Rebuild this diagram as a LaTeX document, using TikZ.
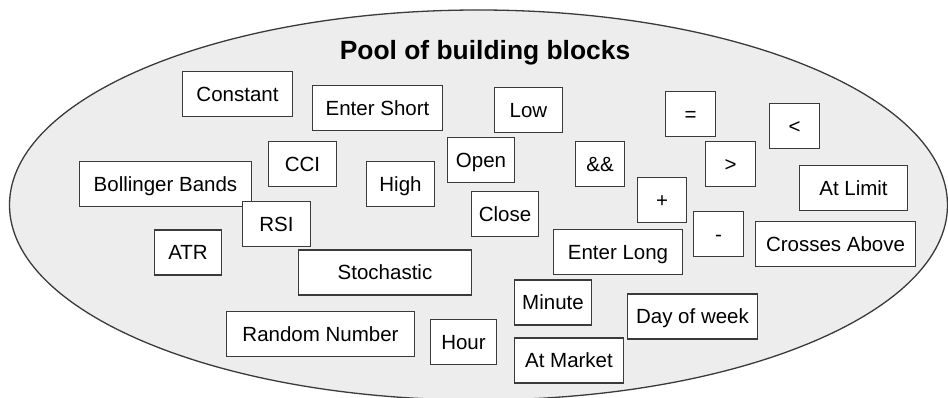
\documentclass[tikz,border=0pt]{standalone}
\usepackage{fontspec}
\setmainfont{Liberation Sans}
\definecolor{poolfill}{HTML}{EDEDED}
\definecolor{edgegray}{HTML}{3A3A3A}
\begin{document}
\begin{tikzpicture}[x=1pt,y=-1pt,
  blk/.style={draw=edgegray, line width=1.3pt, fill=white, inner sep=0pt,
    minimum height=45pt, text height=14.7pt, text depth=0pt,
    font=\fontsize{20.5}{24}\selectfont, text=black},
  pool/.style={draw=edgegray, line width=1.3pt, fill=poolfill},
  ttl/.style={font=\fontsize{26.4}{30}\bfseries\selectfont, inner sep=0pt, anchor=base}]
\useasboundingbox (0,0) rectangle (948,398);
\begin{scope}
\clip (0,0) rectangle (948,398);
\draw[pool] (478.5,205) ellipse [x radius=469, y radius=195];
\end{scope}
\node[ttl] (title) at (485,60) {Pool of building blocks};
\node[blk, minimum width=110pt] (constant) at (237.5,94) {Constant};
\node[blk, minimum width=130pt] (entershort) at (377.5,108) {Enter Short};
\node[blk, minimum width=68pt] (cci) at (302.5,164) {CCI};
\node[blk, minimum width=172pt] (bollinger) at (165.5,184) {Bollinger Bands};
\node[blk, minimum width=68pt] (rsi) at (276.5,224) {RSI};
\node[blk, minimum width=68pt] (high) at (400.5,184) {High};
\node[blk, minimum width=67pt] (open) at (481,160) {Open};
\node[blk, minimum width=68pt] (low) at (528.5,110) {Low};
\node[blk, minimum width=50pt] (eq) at (690.5,114) {=};
\node[blk, minimum width=50pt] (lt) at (794.5,126) {<};
\node[blk, minimum width=49pt] (and) at (600,164) {\&\&};
\node[blk, minimum width=50pt] (gt) at (730.5,164) {>};
\node[blk, minimum width=108pt] (atlimit) at (853.5,188) {At Limit};
\node[blk, minimum width=49pt] (plus) at (662,200) {+};
\node[blk, minimum width=67pt] (close) at (505,214) {Close};
\node[blk, minimum width=129pt] (enterlong) at (618,252) {Enter Long};
\node[blk, minimum width=50pt] (minus) at (718.5,234) {-};
\node[blk, minimum width=160pt] (crosses) at (835.5,244) {Crosses Above};
\node[blk, minimum width=67pt] (atr) at (188,252.5) {ATR};
\node[blk, minimum width=173pt] (stoch) at (385,272.5) {Stochastic};
\node[blk, minimum width=188pt] (random) at (320.5,334) {Random Number};
\node[blk, minimum width=66pt] (hour) at (463.5,342) {Hour};
\node[blk, minimum width=77pt] (minute) at (553,302.5) {Minute};
\node[blk, minimum width=109pt] (atmarket) at (569,360.5) {At Market};
\node[blk, minimum width=130pt] (dayofweek) at (692.5,316.5) {Day of week};
\end{tikzpicture}
\end{document}
